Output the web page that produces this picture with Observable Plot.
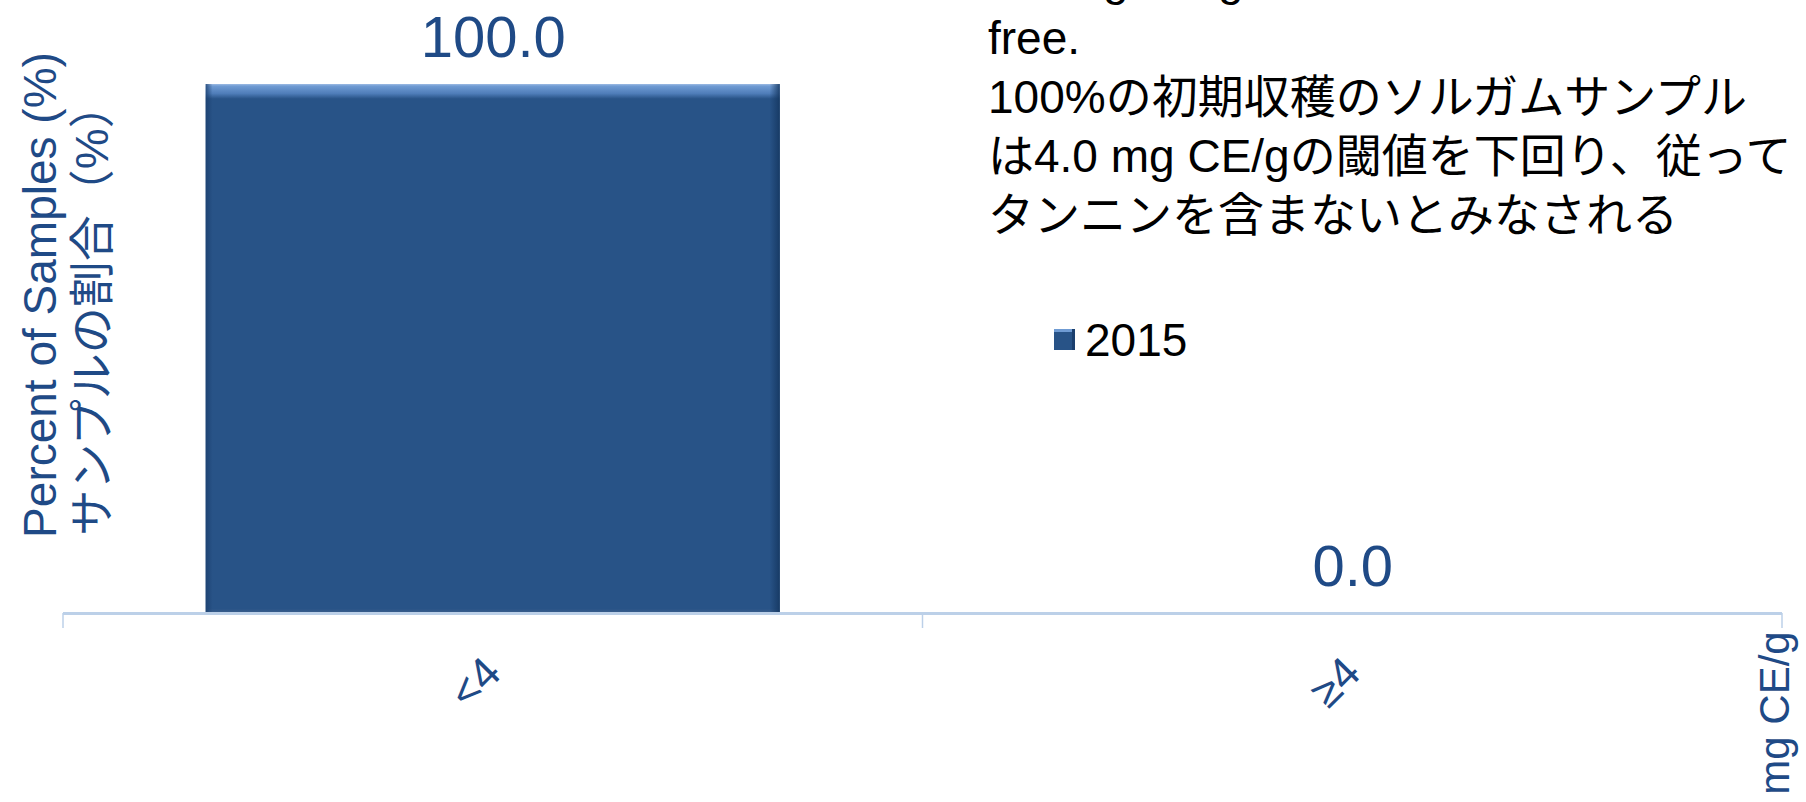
<!DOCTYPE html>
<html><head><meta charset="utf-8">
<script src="https://cdn.jsdelivr.net/npm/d3@7"></script>
<script src="https://cdn.jsdelivr.net/npm/@observablehq/plot@0.6"></script>
<style>
html,body{margin:0;padding:0;background:#fff;}
#chart{position:relative;width:1806px;height:802px;overflow:hidden;}
</style></head><body><div id="chart"></div>
<script>
const categories = ["<4", "≥4"];
const values2015 = [100.0, 0.0];
const seriesName = "2015";
const yTitleLines = ["Percent of Samples (%)", "サンプルの割合（%）"];
const xTitle = "mg CE/g";
const noteLines = [
  "4.0 mg CE/g and thus considered tannin",
  "free.",
  "100%の初期収穫のソルガムサンプル",
  "は4.0 mg CE/gの閾値を下回り、従って",
  "タンニンを含まないとみなされる"
];

const data = categories.map((c, i) => ({cat: c, value: values2015[i]}));
const blue = "#1F4A86";
const barFill = "#285387";
const fontStack = "'Liberation Sans', Arial, 'Noto Sans CJK JP', sans-serif";

const chart = Plot.plot({
  width: 1806, height: 802,
  marginLeft: 63, marginRight: 24, marginTop: 84, marginBottom: 189,
  style: {background: "#fff", fontFamily: fontStack, overflow: "visible"},
  x: {domain: categories, paddingInner: 0.332, paddingOuter: 0.166, round: false, label: null},
  y: {domain: [0, 100], axis: null},
  marks: [
    Plot.barY(data, {x: "cat", y: "value", fill: "url(#bevelV)"}),
    Plot.barY(data, {x: "cat", y: "value", fill: "url(#bevelH)"}),
    Plot.ruleY([0], {stroke: "#BCD0E8", strokeWidth: 3}),
    Plot.axisX({tickSize: 0, tickRotate: -45, tickPadding: 52, fontSize: 44, color: blue, label: null}),
    Plot.text(data, {x: "cat", y: "value", text: d => d.value.toFixed(1), dy: -46, fontSize: 58, fill: blue, lineAnchor: "middle"})
  ]
});
document.getElementById("chart").appendChild(chart);

const svg = d3.select(chart);
const defs = svg.insert("defs", ":first-child");
const gv = defs.append("linearGradient").attr("id", "bevelV").attr("x1", 0).attr("y1", 0).attr("x2", 0).attr("y2", 1);
[[0, "#9dbbe3"], [0.004, "#6f9bd3"], [0.018, "#4f7db9"], [0.028, barFill], [0.992, barFill], [1, "#3d5f8c"]]
  .forEach(([o, c]) => gv.append("stop").attr("offset", o).attr("stop-color", c));
const gh = defs.append("linearGradient").attr("id", "bevelH").attr("x1", 0).attr("y1", 0).attr("x2", 1).attr("y2", 0);
[[0, "#1b3f6e", 0.8], [0.012, "#1b3f6e", 0], [0.982, "#14365f", 0], [1, "#14365f", 0.85]]
  .forEach(([o, c, a]) => gh.append("stop").attr("offset", o).attr("stop-color", c).attr("stop-opacity", a));

// category boundary ticks (between-tick-marks style)
const xs = chart.scale("x");
const ys = chart.scale("y");
const y0 = ys.apply(0);
const gap = xs.step - xs.bandwidth;
const bounds = [xs.range[0], ...categories.slice(1).map(c => xs.apply(c) - gap / 2), xs.range[1]];
svg.append("g").selectAll("line").data(bounds).join("line")
  .attr("x1", d => d).attr("x2", d => d).attr("y1", y0).attr("y2", y0 + 15)
  .attr("stroke", "#BCD0E8").attr("stroke-width", 1.5);

// y-axis title (two lines)
const yt = svg.append("g").attr("fill", blue).attr("font-size", 46).attr("font-family", fontStack);
[[40, 295], [92, 309]].forEach(([x, y], i) => {
  yt.append("text").attr("transform", `translate(${x},${y}) rotate(-90)`)
    .attr("text-anchor", "middle").attr("dominant-baseline", "central").text(yTitleLines[i]);
});

// x-axis title at the right
svg.append("text").attr("transform", "translate(1774,713) rotate(-90)")
  .attr("text-anchor", "middle").attr("dominant-baseline", "central")
  .attr("fill", blue).attr("font-size", 42).attr("font-family", fontStack).text(xTitle);

// note text block
const nt = svg.append("text").attr("font-size", 46).attr("fill", "#000")
  .attr("text-anchor", "start").attr("font-family", fontStack);
noteLines.forEach((line, i) => {
  nt.append("tspan").attr("x", 988).attr("y", -5 + i * 59).text(line);
});

// legend
const lg = svg.append("g");
lg.append("rect").attr("x", 1054).attr("y", 329).attr("width", 21).attr("height", 21).attr("fill", barFill);
lg.append("rect").attr("x", 1054).attr("y", 329).attr("width", 21).attr("height", 3).attr("fill", "#6f9bd3");
lg.append("rect").attr("x", 1072).attr("y", 329).attr("width", 3).attr("height", 21).attr("fill", "#1b3f6e");
lg.append("text").attr("x", 1085).attr("y", 356).attr("font-size", 46).attr("fill", "#000")
  .attr("text-anchor", "start").attr("font-family", fontStack).text(seriesName);
</script>
</body></html>
